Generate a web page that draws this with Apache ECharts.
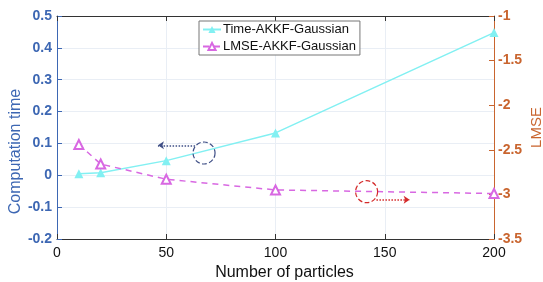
<!DOCTYPE html>
<html>
<head>
<meta charset="utf-8">
<script src="https://cdn.jsdelivr.net/npm/echarts@6/dist/echarts.min.js"></script>
<style>
html,body{margin:0;padding:0;background:#fff;}
#chart{width:543px;height:282px;}
</style>
</head>
<body>
<div id="chart"></div>
<script>
// 数据
var particles = [10, 20, 50, 100, 200];
var timeAKKF = [0.005, 0.008, 0.046, 0.133, 0.448];
var lmseAKKF = [-2.44, -2.66, -2.83, -2.95, -2.99];

var blueC = '#3d67b3';
var orangeC = '#c9652f';
var gridC = '#e9eef5';
var font = 'Liberation Sans, Arial, sans-serif';

function pairs(xs, ys) {
    return xs.map(function (x, i) { return [x, ys[i]]; });
}

var myChart = echarts.init(document.getElementById('chart'));
var option = {
    animation: false,
    textStyle: {fontFamily: font},
    grid: {left: 57, right: 49, top: 16, bottom: 43, containLabel: false, outerBoundsMode: 'none'},
    legend: {
        left: 199,
        top: 21,
        orient: 'vertical',
        itemWidth: 18,
        itemHeight: 9,
        itemGap: 4,
        padding: [2, 4, 2, 3],
        backgroundColor: '#fff',
        borderColor: '#777',
        borderWidth: 1,
        borderRadius: 0,
        textStyle: {fontSize: 13, color: '#111', fontFamily: font, padding: [0, 0, 0, -3]},
        data: ['Time-AKKF-Gaussian', 'LMSE-AKKF-Gaussian']
    },
    xAxis: [
        {
            type: 'value',
            min: 0, max: 200, interval: 50,
            name: 'Number of particles',
            nameLocation: 'middle',
            nameGap: 26,
            nameTextStyle: {fontSize: 16, color: '#111', padding: [0, 0, 0, 18]},
            axisLine: {show: true, onZero: false, lineStyle: {color: '#333', width: 1}},
            axisTick: {show: true, inside: true, length: 5, lineStyle: {color: '#333'}},
            axisLabel: {fontSize: 14, color: '#111', margin: 7},
            splitLine: {show: true, lineStyle: {color: gridC, width: 1}}
        },
        {
            type: 'value',
            position: 'top',
            min: 0, max: 200, interval: 50,
            axisLine: {show: true, onZero: false, lineStyle: {color: '#333', width: 1}},
            axisTick: {show: true, inside: true, length: 5, lineStyle: {color: '#333'}},
            axisLabel: {show: false},
            splitLine: {show: false}
        }
    ],
    yAxis: [
        {
            type: 'value',
            min: -0.2, max: 0.5, interval: 0.1,
            name: 'Computation time',
            nameLocation: 'middle',
            nameGap: 33,
            nameMoveOverlap: false,
            nameTextStyle: {fontSize: 16, color: blueC, padding: [0, 48, 0, 0]},
            axisLine: {show: true, onZero: false, lineStyle: {color: blueC, width: 1}},
            axisTick: {show: true, inside: true, length: 5, lineStyle: {color: blueC}},
            axisLabel: {
                fontSize: 14, color: blueC, fontWeight: 'bold', margin: 5,
                formatter: function (v) { return String(Math.round(v * 10) / 10); }
            },
            splitLine: {show: true, lineStyle: {color: gridC, width: 1}}
        },
        {
            type: 'value',
            min: -3.5, max: -1, interval: 0.5,
            position: 'right',
            name: 'LMSE',
            nameLocation: 'middle',
            nameRotate: 90,
            nameGap: 35,
            nameMoveOverlap: false,
            nameTextStyle: {fontSize: 15, color: orangeC},
            axisLine: {show: true, onZero: false, lineStyle: {color: orangeC, width: 1}},
            axisTick: {show: true, inside: true, length: 5, lineStyle: {color: orangeC}},
            axisLabel: {
                fontSize: 14, color: orangeC, fontWeight: 'bold', margin: 4,
                formatter: function (v) { return String(Math.round(v * 10) / 10); }
            },
            splitLine: {show: false}
        }
    ],
    series: [
        {
            name: 'Time-AKKF-Gaussian',
            type: 'line',
            xAxisIndex: 0,
            yAxisIndex: 0,
            data: pairs(particles, timeAKKF),
            symbol: 'triangle',
            symbolSize: 9,
            lineStyle: {color: '#82f0f2', width: 1.5},
            itemStyle: {color: '#82f0f2'},
            markLine: {
                silent: true,
                symbol: ['none', 'arrow'],
                symbolSize: 6,
                label: {show: false},
                lineStyle: {color: '#3f4f86', type: 'dotted', width: 1.5},
                data: [[{coord: [63.2, 0.094]}, {coord: [46.2, 0.094]}]]
            },
            markPoint: {
                silent: true,
                symbol: 'circle',
                symbolSize: 22,
                label: {show: false},
                itemStyle: {color: 'rgba(0,0,0,0)', borderColor: '#3f4f86', borderWidth: 1.2, borderType: 'dashed'},
                data: [{coord: [67.3, 0.07]}]
            }
        },
        {
            name: 'LMSE-AKKF-Gaussian',
            type: 'line',
            xAxisIndex: 0,
            yAxisIndex: 1,
            data: pairs(particles, lmseAKKF),
            symbol: 'emptyTriangle',
            symbolSize: 9,
            lineStyle: {color: '#d868e2', width: 1.5, type: [6, 5]},
            itemStyle: {color: '#d868e2', borderWidth: 1.5},
            markLine: {
                silent: true,
                symbol: ['none', 'arrow'],
                symbolSize: 6,
                label: {show: false},
                lineStyle: {color: '#d42a2a', type: 'dotted', width: 1.5},
                data: [[{coord: [146.2, -3.06]}, {coord: [161.4, -3.06]}]]
            },
            markPoint: {
                silent: true,
                symbol: 'circle',
                symbolSize: 22,
                label: {show: false},
                itemStyle: {color: 'rgba(0,0,0,0)', borderColor: '#d42a2a', borderWidth: 1.2, borderType: 'dashed'},
                data: [{coord: [141.7, -2.97]}]
            }
        }
    ]
};
myChart.setOption(option, true);
window.onresize = function () {
    myChart.resize();
};
</script>
</body>
</html>
